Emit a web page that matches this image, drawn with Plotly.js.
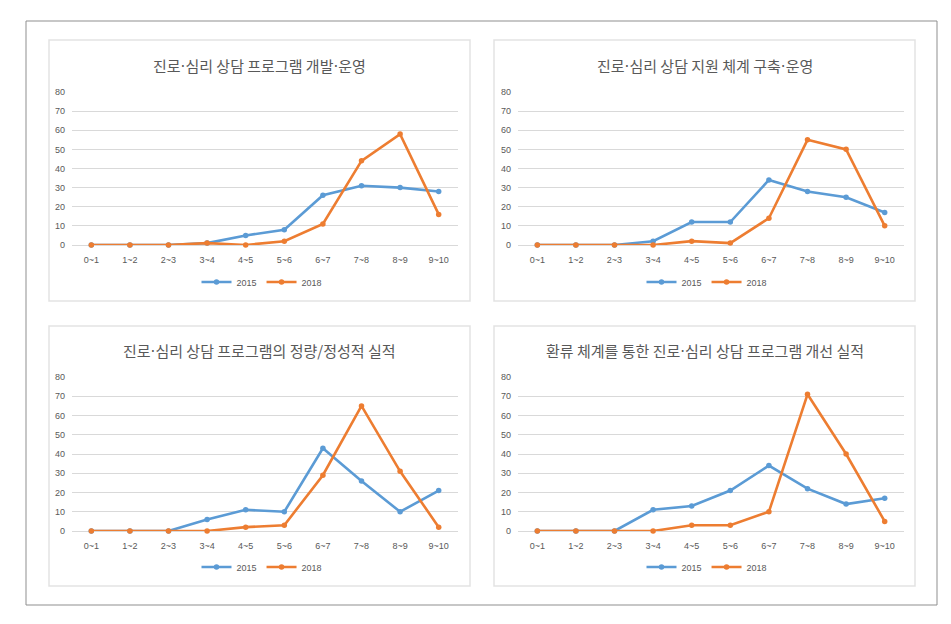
<!DOCTYPE html>
<html>
<head>
<meta charset="utf-8">
<script src="https://cdn.plot.ly/plotly-3.0.1.min.js"></script>
<style>
  html, body { margin: 0; padding: 0; background: #ffffff; }
  #chart { width: 951px; height: 624px; }
</style>
</head>
<body>
<div id="chart"></div>
<script>
// ---- data ----
const categories = ["0~1", "1~2", "2~3", "3~4", "4~5", "5~6", "6~7", "7~8", "8~9", "9~10"];
const seriesNames = ["2015", "2018"];
const yTicks = [0, 10, 20, 30, 40, 50, 60, 70, 80];

const titles = [
  "진로·심리 상담 프로그램 개발·운영",
  "진로·심리 상담 지원 체계 구축·운영",
  "진로·심리 상담 프로그램의 정량/정성적 실적",
  "환류 체계를 통한 진로·심리 상담 프로그램 개선 실적"
];

const p1_2015 = [0, 0, 0, 1, 5, 8, 26, 31, 30, 28];
const p1_2018 = [0, 0, 0, 1, 0, 2, 11, 44, 58, 16];

const p2_2015 = [0, 0, 0, 2, 12, 12, 34, 28, 25, 17];
const p2_2018 = [0, 0, 0, 0, 2, 1, 14, 55, 50, 10];

const p3_2015 = [0, 0, 0, 6, 11, 10, 43, 26, 10, 21];
const p3_2018 = [0, 0, 0, 0, 2, 3, 29, 65, 31, 2];

const p4_2015 = [0, 0, 0, 11, 13, 21, 34, 22, 14, 17];
const p4_2018 = [0, 0, 0, 0, 3, 3, 10, 71, 40, 5];

const panels = [
  [p1_2015, p1_2018],
  [p2_2015, p2_2018],
  [p3_2015, p3_2018],
  [p4_2015, p4_2018]
];

// ---- styles / layout helpers ----
const W = 951, H = 624;
const colors = ["#5B9BD5", "#ED7D31"];
const tickFont = { family: "Liberation Sans Narrow, Liberation Sans, Arial, sans-serif", size: 9, color: "#595959" };
const titleFont = { family: "Noto Sans CJK KR, sans-serif", size: 15, color: "#595959" };

const px = v => v / W;
const py = v => 1 - v / H;

// narrow middle dot in titles
const fmtTitle = t => t.split("·").join('<span style="font-family:DejaVu Sans">·</span>');

// plot areas (pixel) [x0, x1, yTop, yBottom]
const areas = [
  [72, 458, 92, 245],
  [518, 904, 92, 245],
  [72, 458, 377, 531],
  [518, 904, 377, 531]
];
// panel frames [x0, y0, x1, y1]
const frames = [
  [49, 40, 470, 301],
  [494, 40, 915, 301],
  [49, 326, 470, 586],
  [494, 326, 915, 586]
];
const titleY = [66, 66, 350, 350];
const legendY = [282, 282, 567, 567];
const legendX = [262, 707, 262, 707];

const traces = [];
const layout = {
  width: W, height: H,
  margin: { l: 0, r: 0, t: 0, b: 0 },
  paper_bgcolor: "#ffffff",
  plot_bgcolor: "rgba(0,0,0,0)",
  showlegend: true,
  shapes: [],
  annotations: []
};

panels.forEach((pan, i) => {
  const n = i + 1;
  const xa = "x" + (n === 1 ? "" : n);
  const ya = "y" + (n === 1 ? "" : n);
  const lg = "legend" + (n === 1 ? "" : n);
  pan.forEach((vals, s) => {
    traces.push({
      type: "scatter",
      mode: "lines+markers",
      x: categories,
      y: vals,
      name: seriesNames[s],
      xaxis: xa, yaxis: ya,
      legend: lg,
      cliponaxis: false,
      line: { color: colors[s], width: 2.6 },
      marker: { color: colors[s], size: 5.5, symbol: "circle" },
      hoverinfo: "skip"
    });
  });
  const a = areas[i];
  layout["xaxis" + (n === 1 ? "" : n)] = {
    domain: [px(a[0]), px(a[1])],
    anchor: ya,
    type: "category",
    range: [-0.5, 9.5],
    showgrid: false,
    zeroline: false,
    showline: false,
    ticks: "",
    ticklabelstandoff: 8,
    tickfont: tickFont,
    automargin: false,
    fixedrange: true
  };
  layout["yaxis" + (n === 1 ? "" : n)] = {
    domain: [py(a[3]), py(a[2])],
    anchor: xa,
    range: [0, 80],
    tickvals: yTicks,
    showgrid: true,
    gridcolor: "#d9d9d9",
    gridwidth: 1,
    zeroline: true,
    zerolinecolor: "#d9d9d9",
    zerolinewidth: 1,
    showline: false,
    ticks: "",
    ticklabelstandoff: 6,
    tickfont: tickFont,
    automargin: false,
    fixedrange: true
  };
  layout[lg] = {
    orientation: "h",
    x: px(legendX[i]), xanchor: "center",
    y: py(legendY[i]), yanchor: "middle",
    font: tickFont,
    bgcolor: "rgba(0,0,0,0)",
    itemwidth: 30,
    tracegroupgap: 0
  };
  const f = frames[i];
  layout.shapes.push({
    type: "rect", xref: "paper", yref: "paper",
    x0: px(f[0]), x1: px(f[2]), y0: py(f[3]), y1: py(f[1]),
    line: { color: "#e3e3e3", width: 1.5 }, fillcolor: "rgba(0,0,0,0)", layer: "below"
  });
  layout.annotations.push({
    xref: "paper", yref: "paper",
    x: px((f[0] + f[2]) / 2), y: py(titleY[i]),
    xanchor: "center", yanchor: "middle",
    text: fmtTitle(titles[i]), showarrow: false, font: titleFont
  });
});

layout.shapes.push({
  type: "rect", xref: "paper", yref: "paper",
  x0: px(26), x1: px(937), y0: py(605), y1: py(21),
  line: { color: "#8f8f8f", width: 1 }, fillcolor: "rgba(0,0,0,0)", layer: "below"
});

Plotly.newPlot("chart", traces, layout, { displayModeBar: false, staticPlot: true });
</script>
</body>
</html>
